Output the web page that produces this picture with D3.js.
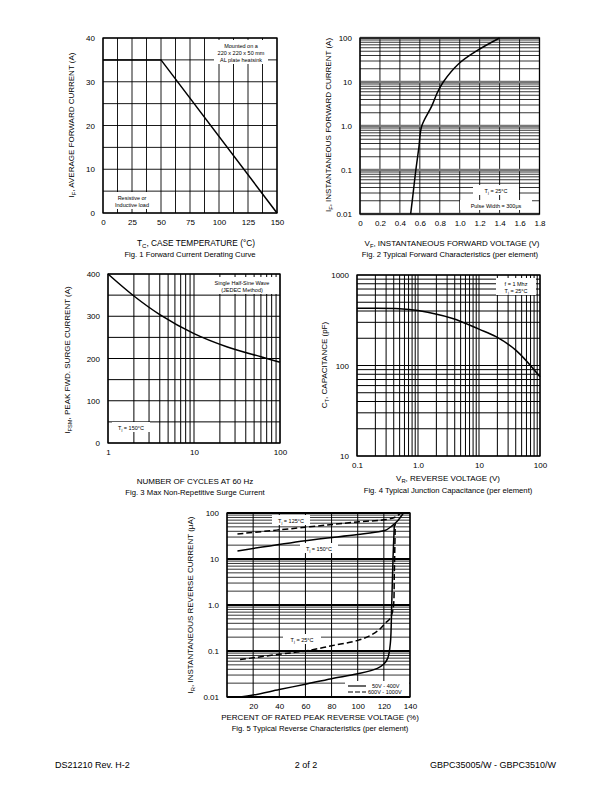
<!DOCTYPE html>
<html><head><meta charset="utf-8">
<script src="https://cdn.jsdelivr.net/npm/d3@7"></script>
<style>body{margin:0;background:#fff}text{font-family:"Liberation Sans",Arial,sans-serif;fill:#000}</style>
</head><body>
<script>
// ---------- DATA ----------
const fig1Temp = [0, 50, 150];
const fig1Current = [35, 35, 0];
const fig1XTicks = [0, 25, 50, 75, 100, 125, 150];
const fig1YTicks = [0, 10, 20, 30, 40];

const fig2Voltage = [0.508, 0.53, 0.56, 0.59, 0.619, 0.719, 0.775, 0.835, 0.99, 1.17, 1.40];
const fig2Current = [0.01, 0.026, 0.1, 0.32, 1.0, 2.83, 5.7, 10, 26, 51, 100];
const fig2XTicks = [0, 0.2, 0.4, 0.6, 0.8, 1.0, 1.2, 1.4, 1.6, 1.8];
const fig2XLabels = ["0", "0.2", "0.4", "0.6", "0.8", "1.0", "1.2", "1.4", "1.6", "1.8"];
const fig2YTicks = [0.01, 0.1, 1, 10, 100];
const fig2YLabels = ["0.01", "0.1", "1.0", "10", "100"];

const fig3Cycles = [1, 2, 4, 10, 24, 60, 100];
const fig3Surge = [400, 348, 304, 259, 228, 204, 191];
const fig3XTicks = [1, 10, 100];
const fig3XLabels = ["1", "10", "100"];
const fig3YTicks = [0, 100, 200, 300, 400];

const fig4Voltage = [0.1, 0.5, 1, 3.7, 10, 19, 40, 100];
const fig4Cap = [428, 425, 405, 331, 252, 208, 148, 75];
const fig4XTicks = [0.1, 1, 10, 100];
const fig4XLabels = ["0.1", "1.0", "10", "100"];
const fig4YTicks = [10, 100, 1000];
const fig4YLabels = ["10", "100", "1000"];

const fig5HotSolidPct = [8, 60, 100, 118, 122, 126, 130, 135];
const fig5HotSolidIr = [15, 25, 34, 40, 43, 52, 65, 100];
const fig5HotDashPct = [8, 60, 100, 122, 128, 131, 133];
const fig5HotDashIr = [35, 49, 64, 72, 80, 90, 100];
const fig5ColdSolidPct = [10, 20, 40, 60, 80, 100, 115, 120, 123, 125, 126, 127, 128];
const fig5ColdSolidIr = [0.01, 0.011, 0.0145, 0.019, 0.025, 0.032, 0.042, 0.052, 0.07, 0.15, 1, 10, 55];
const fig5ColdDashPct = [10, 40, 60, 80, 100, 110, 117, 121, 124.5, 127, 128, 128.7];
const fig5ColdDashIr = [0.065, 0.085, 0.1, 0.13, 0.17, 0.22, 0.3, 0.4, 0.5, 0.8, 5, 60];
const fig5XTicks = [20, 40, 60, 80, 100, 120, 140];
const fig5YTicks = [0.01, 0.1, 1, 10, 100];
const fig5YLabels = ["0.01", "0.1", "1.0", "10", "100"];

// ---------- HELPERS ----------
const svg = d3.select("body").append("svg").attr("width", 612).attr("height", 792);

function logMinors(lo, hi) {
  const out = [];
  for (let d = lo; d < hi; d *= 10) for (let k = 1; k < 10; k++) out.push(d * k);
  out.push(hi);
  return out;
}
function hLines(g, vals, x, y, w, col) {
  g.selectAll(null).data(vals).enter().append("line")
    .attr("x1", x.range()[0]).attr("x2", x.range()[1])
    .attr("y1", d => y(d)).attr("y2", d => y(d))
    .attr("stroke", col || "#000").attr("stroke-width", w);
}
function vLines(g, vals, x, y, w, col) {
  g.selectAll(null).data(vals).enter().append("line")
    .attr("y1", y.range()[0]).attr("y2", y.range()[1])
    .attr("x1", d => x(d)).attr("x2", d => x(d))
    .attr("stroke", col || "#000").attr("stroke-width", w);
}
function frame(g, x, y) {
  const [x0, x1] = x.range(), [y0, y1] = y.range();
  g.append("rect").attr("x", x0).attr("y", y1).attr("width", x1 - x0).attr("height", y0 - y1)
    .attr("fill", "none").attr("stroke", "#000").attr("stroke-width", 1.3);
}
function axes(g, x, y, xt, xl, yt, yl) {
  const ax = g.append("g").attr("transform", `translate(0,${y.range()[0]})`)
    .call(d3.axisBottom(x).tickValues(xt).tickFormat((d, i) => xl ? xl[i] : d).tickSize(0).tickPadding(6));
  const ay = g.append("g").attr("transform", `translate(${x.range()[0]},0)`)
    .call(d3.axisLeft(y).tickValues(yt).tickFormat((d, i) => yl ? yl[i] : d).tickSize(0).tickPadding(8));
  [ax, ay].forEach(a => { a.select(".domain").remove(); a.selectAll("text").attr("font-size", 8).attr("font-family", '"Liberation Sans",Arial,sans-serif'); });
}
function curve(g, xs, ys, x, y, dash, linear) {
  const pts = xs.map((v, i) => [x(v), y(ys[i])]);
  const gen = d3.line().curve(linear ? d3.curveLinear : d3.curveCatmullRom.alpha(0.5));
  g.append("path").attr("d", gen(pts))
    .attr("fill", "none").attr("stroke", "#000").attr("stroke-width", 1.5)
    .attr("stroke-dasharray", dash || null);
}
function label(g, x, y, parts, size, anchor, rotate) {
  const t = g.append("text").attr("font-size", size).attr("text-anchor", anchor || "middle")
    .attr("transform", `translate(${x},${y})` + (rotate ? " rotate(-90)" : ""));
  parts.forEach(p => {
    if (Array.isArray(p)) t.append("tspan").text(p[0]).attr("font-size", size * 0.72).attr("baseline-shift", "-30%");
    else t.append("tspan").text(p);
  });
  return t;
}
function box(g, cx, y, w, lines, size) {
  const h = lines.length * (size + 1.5) + 3;
  g.append("rect").attr("x", cx - w / 2).attr("y", y).attr("width", w).attr("height", h).attr("fill", "#fff");
  lines.forEach((l, i) => label(g, cx, y + 2 + (i + 1) * (size + 1.5) - 1.5, l, size));
}

// ---------- FIG 1 ----------
{
  const g = svg.append("g");
  const x = d3.scaleLinear([0, 150], [103, 277]);
  const y = d3.scaleLinear([0, 40], [213, 38]);
  vLines(g, d3.range(0, 151, 12.5), x, y, 0.9);
  hLines(g, d3.range(0, 41, 5), x, y, 0.9);
  box(g, 241, 40, 54, [["Mounted on a"], ["220 x 220 x 50 mm"], ["AL plate heatsink"]], 5.5);
  box(g, 132, 192, 44, [["Resistive or"], ["Inductive load"]], 5.5);
  frame(g, x, y);
  curve(g, fig1Temp, fig1Current, x, y, null, true);
  axes(g, x, y, fig1XTicks, null, fig1YTicks, null);
  label(g, 74, 125, ["I", ["F"], ",  AVERAGE FORWARD CURRENT (A)"], 8, "middle", true);
  label(g, 196, 246, ["T", ["C"], ", CASE TEMPERATURE (°C)"], 8.3);
  label(g, 190, 257, ["Fig. 1  Forward Current Derating Curve"], 7.7);
}

// ---------- FIG 2 ----------
{
  const g = svg.append("g");
  const x = d3.scaleLinear([0, 1.8], [360, 539.5]);
  const y = d3.scaleLog([0.01, 100], [214, 38]);
  vLines(g, fig2XTicks, x, y, 0.9);
  hLines(g, logMinors(0.01, 100), x, y, 0.8);
  hLines(g, fig2YTicks, x, y, 2.6, "#777");
  box(g, 496, 185, 46, [["T", ["j"], " = 25°C"]], 5.5);
  box(g, 496, 200, 72, [["Pulse Width = 300μs"]], 5.5);
  frame(g, x, y);
  curve(g, fig2Voltage, fig2Current, x, y);
  axes(g, x, y, fig2XTicks, fig2XLabels, fig2YTicks, fig2YLabels);
  label(g, 331, 125, ["I", ["F"], ", INSTANTANEOUS FORWARD CURRENT (A)"], 8, "middle", true);
  label(g, 452, 246, ["V", ["F"], ", INSTANTANEOUS FORWARD VOLTAGE (V)"], 8);
  label(g, 450, 257, ["Fig. 2  Typical Forward Characteristics (per element)"], 7.7);
}

// ---------- FIG 3 ----------
{
  const g = svg.append("g");
  const x = d3.scaleLog([1, 100], [108, 280]);
  const y = d3.scaleLinear([0, 400], [443, 274]);
  vLines(g, logMinors(1, 100), x, y, 1);
  hLines(g, d3.range(0, 401, 50), x, y, 1);
  box(g, 242, 277, 72, [["Single Half-Sine Wave"], ["(JEDEC Method)"]], 5.5);
  box(g, 131, 422, 38, [["T", ["j"], " = 150°C"]], 5.5);
  frame(g, x, y);
  curve(g, fig3Cycles, fig3Surge, x, y);
  axes(g, x, y, fig3XTicks, fig3XLabels, fig3YTicks, null);
  label(g, 70, 360, ["I", ["FSM"], ", PEAK FWD. SURGE CURRENT (A)"], 8, "middle", true);
  label(g, 195, 484, ["NUMBER OF CYCLES AT 60 Hz"], 8);
  label(g, 195, 495, ["Fig. 3  Max Non-Repetitive Surge Current"], 7.7);
}

// ---------- FIG 4 ----------
{
  const g = svg.append("g");
  const x = d3.scaleLog([0.1, 100], [357, 540]);
  const y = d3.scaleLog([10, 1000], [456, 275]);
  vLines(g, logMinors(0.1, 100), x, y, 1);
  hLines(g, logMinors(10, 1000), x, y, 1);
  box(g, 516, 278, 40, [["f = 1 Mhz"], ["T", ["j"], " = 25°C"]], 5.5);
  frame(g, x, y);
  curve(g, fig4Voltage, fig4Cap, x, y);
  axes(g, x, y, fig4XTicks, fig4XLabels, fig4YTicks, fig4YLabels);
  label(g, 327, 365, ["C", ["T"], ", CAPACITANCE (pF)"], 8, "middle", true);
  label(g, 448, 481, ["V", ["R"], ", REVERSE VOLTAGE (V)"], 8);
  label(g, 448, 493, ["Fig. 4  Typical Junction Capacitance (per element)"], 7.7);
}

// ---------- FIG 5 ----------
{
  const g = svg.append("g");
  const x = d3.scaleLinear([0, 140], [227, 410]);
  const y = d3.scaleLog([0.01, 100], [697, 513]);
  vLines(g, d3.range(0, 141, 20), x, y, 1);
  hLines(g, logMinors(0.01, 100), x, y, 0.8);
  hLines(g, fig5YTicks, x, y, 2.2);
  box(g, 291, 515, 38, [["T", ["j"], " = 125°C"]], 5.5);
  box(g, 319, 543, 38, [["T", ["j"], " = 150°C"]], 5.5);
  box(g, 302, 634, 38, [["T", ["j"], " = 25°C"]], 5.5);
  g.append("rect").attr("x", 345).attr("y", 681).attr("width", 64).attr("height", 15).attr("fill", "#fff");
  frame(g, x, y);
  curve(g, fig5HotSolidPct, fig5HotSolidIr, x, y);
  curve(g, fig5HotDashPct, fig5HotDashIr, x, y, "6,3");
  curve(g, fig5ColdSolidPct, fig5ColdSolidIr, x, y);
  curve(g, fig5ColdDashPct, fig5ColdDashIr, x, y, "6,3");
  g.append("line").attr("x1", 348).attr("x2", 366).attr("y1", 686).attr("y2", 686).attr("stroke", "#000").attr("stroke-width", 1.2);
  g.append("line").attr("x1", 348).attr("x2", 366).attr("y1", 692).attr("y2", 692).attr("stroke", "#000").attr("stroke-width", 1.2).attr("stroke-dasharray", "5,2");
  label(g, 372, 688, ["50V - 400V"], 5.5, "start");
  label(g, 368, 694, ["600V - 1000V"], 5.5, "start");
  axes(g, x, y, fig5XTicks, null, fig5YTicks, fig5YLabels);
  label(g, 193, 605, ["I", ["R"], ", INSTANTANEOUS REVERSE CURRENT (μA)"], 8, "middle", true);
  label(g, 320, 720, ["PERCENT OF RATED PEAK  REVERSE VOLTAGE (%)"], 8);
  label(g, 320, 731, ["Fig. 5  Typical Reverse Characteristics (per element)"], 7.7);
}

// ---------- FOOTER ----------
label(svg, 55, 768, ["DS21210 Rev. H-2"], 9, "start");
label(svg, 306, 768, ["2 of 2"], 9, "middle");
label(svg, 556, 768, ["GBPC35005/W - GBPC3510/W"], 9, "end");
</script>
</body></html>
